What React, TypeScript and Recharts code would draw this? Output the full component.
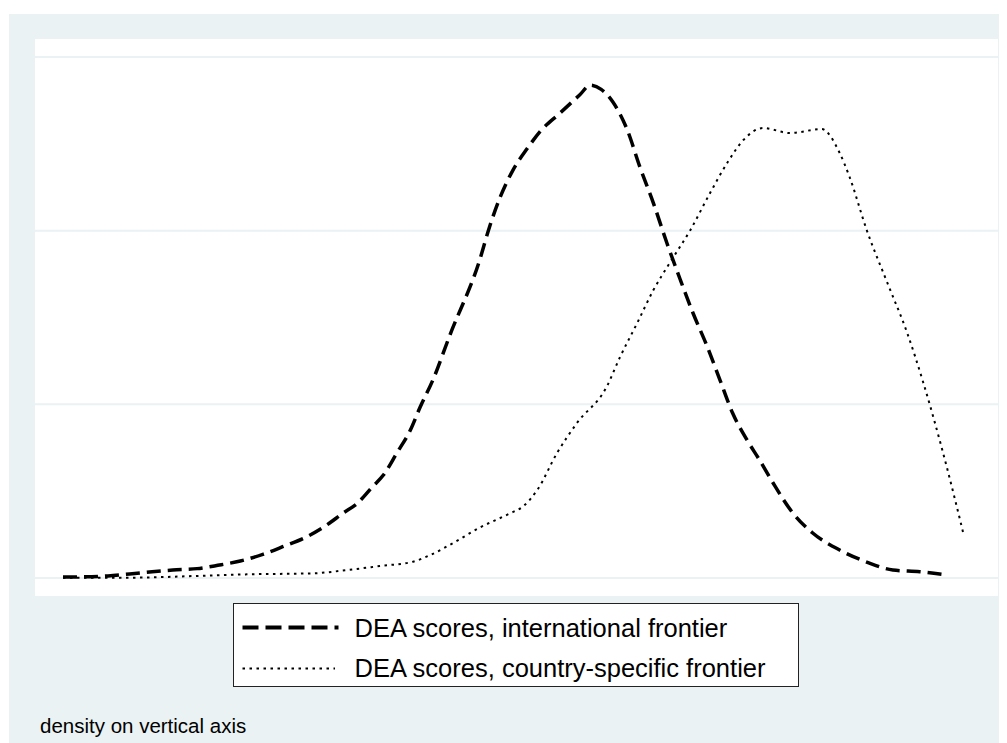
import { LineChart, Line, XAxis, YAxis, CartesianGrid, Legend } from "recharts";

// kernel density of DEA scores (x: score scaled 0..1, y: density)
const intlScore = [
  0, 0.024, 0.05, 0.074, 0.099, 0.122, 0.149, 0.172, 0.197, 0.222, 0.244, 0.271, 0.293, 0.311,
  0.327, 0.344, 0.356, 0.371, 0.386, 0.397, 0.411, 0.43, 0.463, 0.474, 0.486, 0.5, 0.516, 0.53,
  0.552, 0.574, 0.586, 0.598, 0.611, 0.627, 0.641, 0.656, 0.671, 0.686, 0.7, 0.716, 0.73, 0.744,
  0.76, 0.774, 0.789, 0.811, 0.833, 0.863, 0.893, 0.922, 0.952, 0.982,
];
const intlDensity = [
  0.006, 0.007, 0.012, 0.023, 0.036, 0.046, 0.054, 0.073, 0.098, 0.136, 0.18, 0.238, 0.305, 0.373,
  0.43, 0.526, 0.593, 0.72, 0.852, 0.986, 1.14, 1.4, 1.831, 2.023, 2.196, 2.349, 2.474, 2.57,
  2.676, 2.781, 2.838, 2.814, 2.741, 2.58, 2.367, 2.159, 1.929, 1.716, 1.526, 1.33, 1.14, 0.95,
  0.795, 0.679, 0.547, 0.374, 0.259, 0.161, 0.092, 0.046, 0.036, 0.017,
];

const countryScore = [
  0, 0.074, 0.149, 0.204, 0.278, 0.316, 0.352, 0.389, 0.408, 0.433, 0.463, 0.497, 0.511, 0.527,
  0.549, 0.571, 0.604, 0.619, 0.638, 0.656, 0.674, 0.697, 0.719, 0.738, 0.756, 0.778, 0.808,
  0.843, 0.863, 0.874, 0.893, 0.916, 0.938, 0.956, 0.967, 0.982, 1.0,
];
const countryDensity = [
  0.002, 0.002, 0.012, 0.021, 0.027, 0.046, 0.069, 0.094, 0.132, 0.2, 0.29, 0.373, 0.411, 0.507,
  0.72, 0.892, 1.1, 1.273, 1.468, 1.658, 1.813, 2.003, 2.217, 2.39, 2.522, 2.591, 2.562,
  2.585, 2.447, 2.309, 2.004, 1.699, 1.411, 1.123, 0.927, 0.639, 0.265,
];

const seriesNames = ["DEA scores, international frontier", "DEA scores, country-specific frontier"];
const gridValues = [0, 1, 2, 3];
const note = "density on vertical axis";

const intlData = intlScore.map((x, i) => ({ x, y: intlDensity[i] }));
const countryData = countryScore.map((x, i) => ({ x, y: countryDensity[i] }));

const FONT = '"Liberation Sans", Arial, Helvetica, sans-serif';
const BG = "#EAF2F3";

function LegendBox() {
  return (
    <div
      style={{
        position: "relative",
        width: 566,
        height: 84,
        boxSizing: "border-box",
        border: "1.5px solid #222",
        background: "#fff",
        fontFamily: FONT,
        fontSize: 25.5,
        color: "#000",
      }}
    >
      <svg width={563} height={81} style={{ position: "absolute", left: 0, top: 0 }}>
        <line x1={8.5} y1={23.5} x2={104.5} y2={23.5} stroke="#000" strokeWidth={4} strokeDasharray="16 7" />
        <line x1={8.5} y1={64.5} x2={101} y2={64.5} stroke="#000" strokeWidth={1.8} strokeDasharray="2.5 4.5" />
      </svg>
      <span style={{ position: "absolute", left: 120.5, top: 11.5, lineHeight: 1, whiteSpace: "nowrap" }}>
        {seriesNames[0]}
      </span>
      <span style={{ position: "absolute", left: 120.5, top: 51.5, lineHeight: 1, whiteSpace: "nowrap" }}>
        {seriesNames[1]}
      </span>
    </div>
  );
}

export default function App() {
  return (
    <div style={{ position: "relative", width: 999, height: 735, background: "#fff" }}>
      <div style={{ position: "absolute", left: 1, top: 6, width: 998, height: 729, background: BG }} />
      <div style={{ position: "absolute", left: 0, top: 0 }}>
        <LineChart width={999} height={735} margin={{ top: 31, right: 9, left: 27, bottom: 147 }}>
          <CartesianGrid
            vertical={false}
            fill="#fff"
            stroke={BG}
            strokeWidth={2}
            horizontalValues={gridValues}
          />
          <XAxis type="number" dataKey="x" domain={[-0.0311, 1.0389]} allowDataOverflow hide />
          <YAxis type="number" domain={[-0.1036, 3.1036]} ticks={gridValues} allowDataOverflow hide />
          <Legend
            layout="horizontal"
            verticalAlign="middle"
            align="center"
            wrapperStyle={{ left: 225, top: 595, width: 566, height: 84 }}
            content={() => <LegendBox />}
          />
          <Line
            data={intlData}
            dataKey="y"
            name={seriesNames[0]}
            type="monotone"
            stroke="#000"
            strokeWidth={3.5}
            strokeDasharray="14 7"
            dot={false}
            activeDot={false}
            isAnimationActive={false}
          />
          <Line
            data={countryData}
            dataKey="y"
            name={seriesNames[1]}
            type="monotone"
            stroke="#000"
            strokeWidth={2}
            strokeDasharray="2.5 4.5"
            dot={false}
            activeDot={false}
            isAnimationActive={false}
          />
        </LineChart>
      </div>
      <div
        style={{
          position: "absolute",
          left: 32,
          top: 708,
          fontFamily: FONT,
          fontSize: 20.5,
          lineHeight: 1,
          whiteSpace: "nowrap",
          color: "#000",
        }}
      >
        {note}
      </div>
    </div>
  );
}
